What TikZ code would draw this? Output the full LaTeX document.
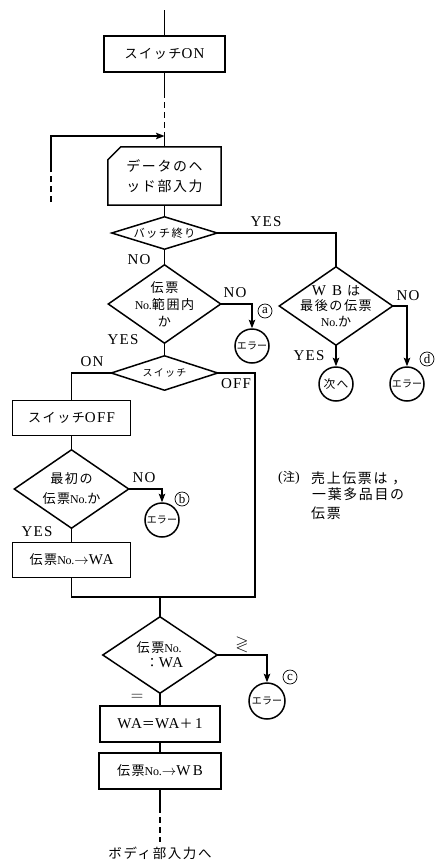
\documentclass[tikz,border=0pt]{standalone}
\usepackage{amssymb}
\usepackage{fontspec}
\setmainfont{Liberation Serif}[LetterSpace=8]
\newfontfamily\jp{Noto Sans CJK JP}[LetterSpace=12,Scale=0.87]
\usetikzlibrary{arrows.meta}

\newcommand\jtxt[1]{{\jp #1}}
\newcommand\vno{{\fontsize{12}{12}\selectfont\addfontfeature{LetterSpace=-2}No.}}
\newcommand\drawdiamond[1]{\draw[flow] (#1.north) -- (#1.east) -- (#1.south) -- (#1.west) -- cycle;}

\tikzset{
  flow/.style={line width=1.5pt, line join=miter},
  arrowto/.style={-{Stealth[length=8.5pt,width=6.5pt,inset=1.5pt]}},
  brokenline/.style={dash pattern=on 6pt off 4pt},
  procbox/.style={draw, line width=1.5pt, rectangle, inner sep=0pt, align=center,
    font=\fontsize{15}{20}\selectfont},
  decision/.style={inner sep=0pt, align=center},
  termc/.style={draw, circle, line width=1.5pt, inner sep=0pt, minimum size=34pt,
    font=\jp\fontsize{11.5}{11.5}\selectfont\addfontfeature{LetterSpace=0}},
  tag/.style={inner sep=0pt, font=\fontsize{15}{15}\selectfont},
  circletag/.style={draw, circle, line width=0.7pt, inner sep=0pt, minimum size=14pt,
    font=\fontsize{13}{13}\selectfont\addfontfeature{LetterSpace=0}},
  notetext/.style={inner sep=0pt, anchor=west, font=\jp\fontsize{16}{16}\selectfont}
}

\begin{document}
\begin{tikzpicture}[x=1pt,y=-1pt]
\fill[white] (0,0) rectangle (436,862);
\useasboundingbox (0,0) rectangle (436,862);

% ---------- header part ----------
\coordinate (top) at (164.5,10);
\node[procbox, minimum width=121pt, minimum height=36pt] (b1) at (164.5,54) {\jtxt{スイッチ}ON};
\coordinate (dashA) at (164.5,92);
\coordinate (j1) at (164.5,136);
\coordinate (loopMid) at (51,170);
\coordinate (loopEnd) at (51,202);

% manual-input card with the clipped corner
\node[inner sep=0pt, minimum width=113pt, minimum height=58pt, align=center,
      font=\jp\fontsize{16}{20}\selectfont] (card) at (164.5,176) {データのヘ\\ッド部入力};
\draw[flow] ([yshift=-13pt]card.north west) -- ([xshift=13pt]card.north west)
  -- (card.north east) -- (card.south east) -- (card.south west) -- cycle;

% ---------- decisions ----------
\node[decision, minimum width=105pt, minimum height=32pt,
      font=\jp\fontsize{13}{13}\selectfont] (d1) at (164.5,233) {バッチ終り};
\drawdiamond{d1}

\node[decision, minimum width=112pt, minimum height=78pt,
      font=\fontsize{15}{17}\selectfont] (d2) at (164.5,304)
      {\jtxt{伝票}\\\vno\jtxt{範囲内}\\\jtxt{か}};
\drawdiamond{d2}

\node[decision, minimum width=106pt, minimum height=34pt,
      font=\jp\fontsize{11.5}{11.5}\selectfont] (d3) at (164.5,373) {スイッチ};
\drawdiamond{d3}

\node[decision, minimum width=113pt, minimum height=78pt,
      font=\fontsize{15}{15.5}\selectfont] (dwb) at (336,306)
      {W\hspace{6pt}B\hspace{5pt}\jtxt{は}\\\jtxt{最後の伝票}\\\vno\jtxt{か}};
\drawdiamond{dwb}

\node[procbox, minimum width=118pt, minimum height=35pt] (boff) at (71.5,418) {\jtxt{スイッチ}OFF};

\node[decision, minimum width=114pt, minimum height=78pt,
      font=\fontsize{15}{20}\selectfont] (d4) at (71.5,489)
      {\jtxt{最初の}\\\jtxt{伝票}\vno\jtxt{か}};
\drawdiamond{d4}

\node[procbox, minimum width=118pt, minimum height=35pt] (bwa) at (71.5,560)
      {\jtxt{伝票}\vno$\rightarrow$WA};

\coordinate (jr) at (255,597);
\coordinate (jm) at (160,597);

\node[decision, minimum width=114pt, minimum height=76pt, align=left,
      font=\fontsize{15}{15}\selectfont] (d5) at (160,655)
      {\jtxt{伝票}\vno\\\hspace{9pt}\jtxt{：}WA};
\drawdiamond{d5}

\node[procbox, minimum width=120pt, minimum height=36pt] (bwa1) at (160,724)
      {WA\jtxt{＝}WA\jtxt{＋}\,1};
\node[procbox, minimum width=122pt, minimum height=36pt] (bwb) at (160,771)
      {\jtxt{伝票}\vno$\rightarrow$W\,B};
\coordinate (dashB) at (160,807);
\coordinate (bottomEnd) at (160,842);
\node[inner sep=0pt, font=\jp\fontsize{15.5}{15.5}\selectfont] (nextpart) at (160,853) {ボディ部入力へ};

% ---------- terminals ----------
\node[termc] (ca) at (252,346) {エラー};
\node[termc, font=\jp\fontsize{13.5}{13.5}\selectfont] (cnext) at (336,384) {次へ};
\node[termc] (cd) at (407,384) {エラー};
\node[termc] (cb) at (162,520) {エラー};
\node[termc, minimum size=36pt] (cc) at (267,701) {エラー};

% ---------- connectors ----------
\draw[flow] (top) -- (b1.north);
\draw[flow] (b1.south) -- (dashA);
\draw[flow, brokenline] (dashA) -- (j1);
\draw[flow] (j1) -- (card.north);
\draw[flow, brokenline] (loopEnd) -- (loopMid);
\draw[flow, arrowto] (loopMid) |- (j1);
\draw[flow] (card.south) -- (d1.north);
\draw[flow] (d1.east) -| (dwb.north);
\draw[flow] (d1.south) -- (d2.north);
\draw[flow, arrowto] (d2.east) -| (ca.north);
\draw[flow] (d2.south) -- (d3.north);
\draw[flow, arrowto] (dwb.south) -- (cnext.north);
\draw[flow, arrowto] (dwb.east) -| (cd.north);
\draw[flow] (d3.west) -| (boff.north);
\draw[flow] (boff.south) -- (d4.north);
\draw[flow, arrowto] (d4.east) -| (cb.north);
\draw[flow] (d4.south) -- (bwa.north);
\draw[flow] (d3.east) -| (jr) -| (bwa.south);
\draw[flow] (jm) -- (d5.north);
\draw[flow, arrowto] (d5.east) -| (cc.north);
\draw[flow] (d5.south) -- (bwa1.north);
\draw[flow] (bwa1.south) -- (bwb.north);
\draw[flow] (bwb.south) -- (dashB);
\draw[flow, brokenline] (dashB) -- (bottomEnd);

% ---------- branch labels ----------
\node[tag] (l1) at (266,222) {YES};
\node[tag] (l2) at (139,260) {NO};
\node[tag] (l3) at (235,293) {NO};
\node[tag] (l4) at (123,340) {YES};
\node[tag] (l5) at (408,296) {NO};
\node[tag] (l6) at (309,356) {YES};
\node[tag] (l7) at (92,362) {ON};
\node[tag] (l8) at (236,384) {OFF};
\node[tag] (l9) at (144,478) {NO};
\node[tag] (l10) at (37,532) {YES};
\node[tag, font=\fontsize{17}{17}\selectfont] (l11) at (242,644) {$\gtrless$};
\node[tag, font=\fontsize{19}{19}\selectfont] (l12) at (137,697) {$=$};

\node[circletag] (ta) at (265,311) {a};
\node[circletag] (td) at (427,359) {d};
\node[circletag] (tb) at (182,499) {b};
\node[circletag] (tc) at (290,677) {c};

% ---------- note ----------
\node[inner sep=0pt, anchor=west, font=\fontsize{14}{14}\selectfont\addfontfeature{LetterSpace=0}] (n0) at (278,478) {(\jtxt{注})};
\node[notetext] (n1) at (311,478) {売上伝票は\hspace{5pt}，};
\node[notetext] (n2) at (312,494) {一葉多品目の};
\node[notetext] (n3) at (311,513) {伝票};
\end{tikzpicture}
\end{document}
